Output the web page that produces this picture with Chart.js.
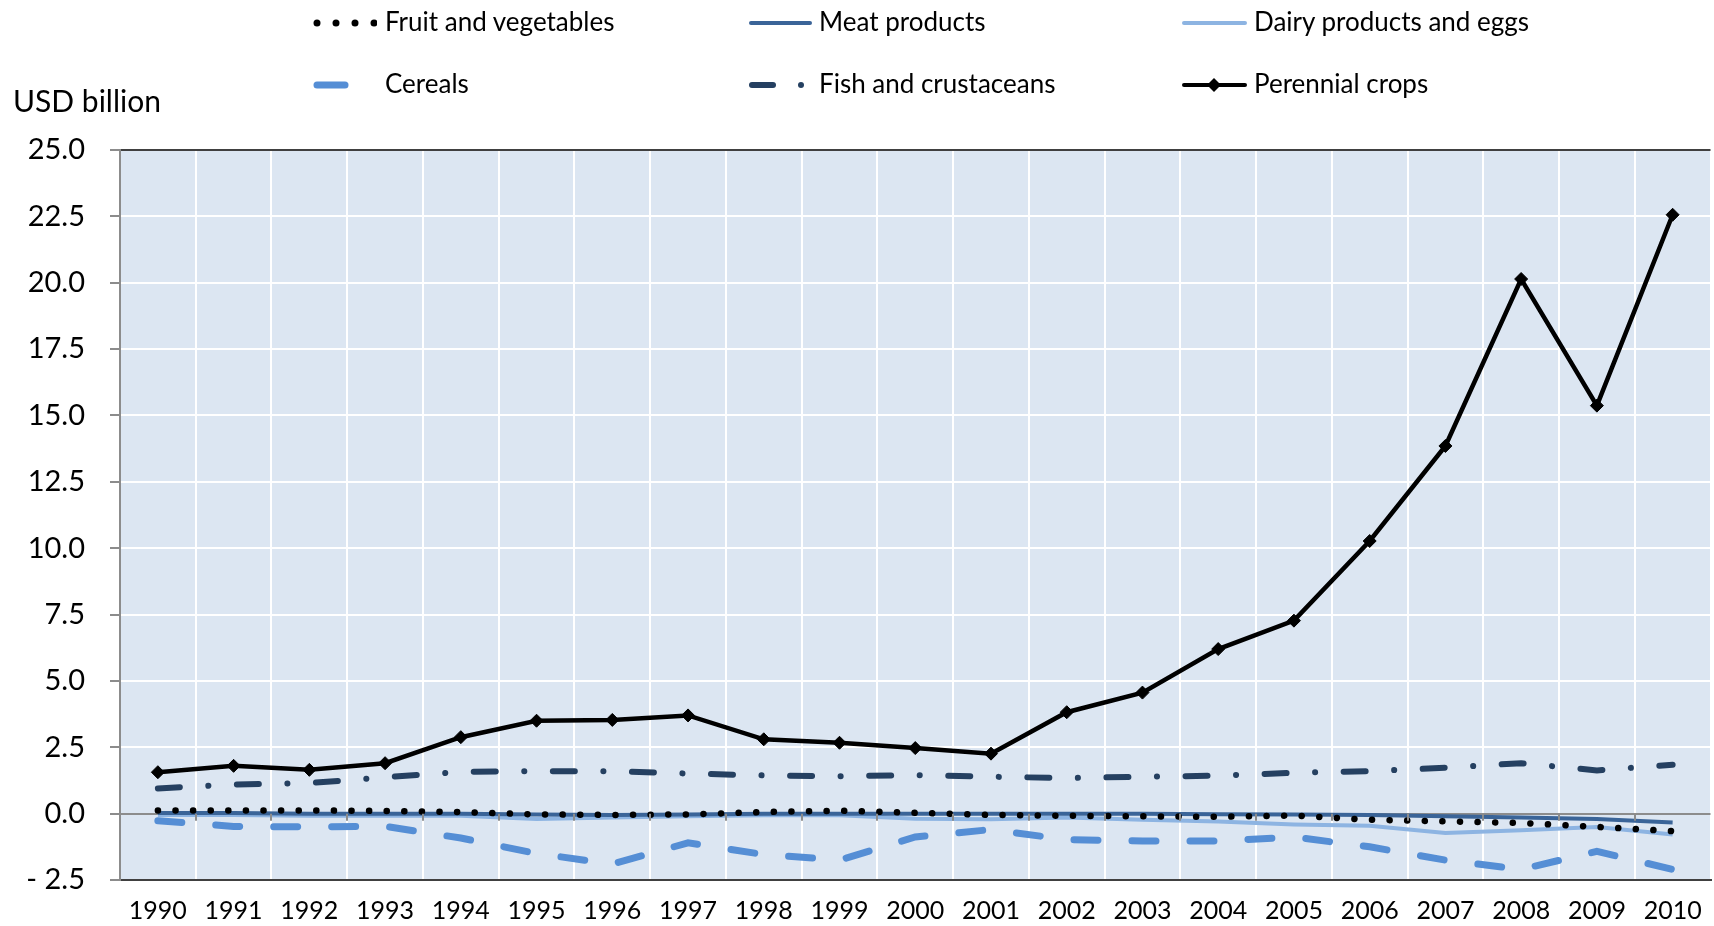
<!DOCTYPE html>
<html>
<head>
<meta charset="utf-8">
<title>Trade balance by product group</title>
<script src="https://cdn.jsdelivr.net/npm/chart.js@4.4.0/dist/chart.umd.min.js"></script>
<style>
    html, body { margin: 0; padding: 0; background: #fff; overflow: hidden; }
    #wrap { position: relative; width: 1718px; height: 926px; font-family: Lato, sans-serif; color: #000; }
    #tradeChart { position: absolute; left: 0; top: 0; }
    .item { position: absolute; height: 40px; font-size: 26px; white-space: nowrap; }
    .item svg { position: absolute; left: 0; top: 0; }
    .item span { position: absolute; top: 50%; transform: translateY(-55%); }
    #unit { position: absolute; left: 13px; top: 82px; font-size: 30px; }
</style>
</head>
<body>
<div id="wrap">
    <canvas id="tradeChart" width="1718" height="926"></canvas>
    <div id="unit">USD billion</div>
    <div id="legend"></div>
</div>
<script>
// Years on the category axis
const years = ['1990', '1991', '1992', '1993', '1994', '1995', '1996', '1997', '1998', '1999', '2000',
               '2001', '2002', '2003', '2004', '2005', '2006', '2007', '2008', '2009', '2010'];

// Values, USD billion
const fruitVeg  = [0.12, 0.12, 0.12, 0.10, 0.06, -0.03, -0.05, -0.03, 0.06, 0.11, 0.03,
                   -0.05, -0.08, -0.10, -0.12, -0.07, -0.23, -0.29, -0.35, -0.50, -0.66];
const meat      = [0.02, 0.02, 0.00, 0.00, 0.00, -0.03, -0.05, -0.03, 0.00, 0.00, 0.00,
                   0.00, 0.00, 0.00, -0.02, -0.03, -0.05, -0.10, -0.15, -0.20, -0.33];
const dairy     = [-0.05, -0.05, -0.08, -0.08, -0.08, -0.20, -0.15, -0.10, -0.06, -0.06, -0.19,
                   -0.21, -0.15, -0.23, -0.30, -0.41, -0.46, -0.73, -0.63, -0.50, -0.79];
const cereals   = [-0.27, -0.48, -0.50, -0.48, -0.92, -1.50, -1.90, -1.10, -1.54, -1.75, -0.88,
                   -0.60, -0.98, -1.03, -1.03, -0.88, -1.25, -1.75, -2.10, -1.42, -2.10];
const fish      = [0.95, 1.10, 1.15, 1.37, 1.57, 1.60, 1.60, 1.51, 1.44, 1.41, 1.45,
                   1.39, 1.34, 1.39, 1.43, 1.54, 1.60, 1.73, 1.90, 1.63, 1.84];
const perennial = [1.56, 1.80, 1.65, 1.90, 2.88, 3.50, 3.53, 3.70, 2.80, 2.67, 2.47,
                   2.26, 3.82, 4.56, 6.20, 7.27, 10.27, 13.85, 20.14, 15.37, 22.56];

// Y axis range
const yMin = -2.5;
const yMax = 25;
const yStep = 2.5;

const FONT = 'Lato, sans-serif';

/**
 * Light blue plot background and small tick marks hanging under the zero line
 */
const plotDecor = {
    id: 'plotDecor',
    beforeDraw(chart) {
        const { ctx, chartArea } = chart;
        ctx.save();
        ctx.fillStyle = '#dce6f2';
        ctx.fillRect(chartArea.left, chartArea.top, chartArea.right - chartArea.left, chartArea.bottom - chartArea.top);
        ctx.restore();
    },
    afterDatasetsDraw(chart) {
        const { ctx, scales } = chart;
        const x = scales.x, y = scales.y;
        const zero = y.getPixelForValue(0);
        const band = (x.right - x.left) / years.length;
        ctx.save();
        ctx.strokeStyle = '#8c8c8c';
        ctx.lineWidth = 2;
        for (let i = 1; i < years.length; i++) {
            const px = Math.round(x.left + i * band);
            ctx.beginPath();
            ctx.moveTo(px, zero);
            ctx.lineTo(px, zero + 7);
            ctx.stroke();
        }
        ctx.restore();
    }
};

const ctx = document.getElementById('tradeChart');
new Chart(ctx, {
    type: 'line',
    data: {
        labels: years,
        datasets: [
            {
                label: 'Perennial crops',
                data: perennial,
                borderColor: '#000000',
                backgroundColor: '#000000',
                borderWidth: 4.5,
                pointStyle: 'rectRot',
                pointRadius: 6.5,
                pointBorderWidth: 1,
                order: 0
            },
            {
                label: 'Fish and crustaceans',
                data: fish,
                borderColor: '#254061',
                borderWidth: 6,
                borderCapStyle: 'round',
                borderDash: [22, 28.5, 0.1, 28.5],
                pointRadius: 0,
                order: 1
            },
            {
                label: 'Fruit and vegetables',
                data: fruitVeg,
                borderColor: '#000000',
                borderWidth: 6.5,
                borderCapStyle: 'round',
                borderDash: [0.1, 17.5],
                pointRadius: 0,
                order: 2
            },
            {
                label: 'Meat products',
                data: meat,
                borderColor: '#3a6498',
                borderWidth: 4,
                pointRadius: 0,
                order: 3
            },
            {
                label: 'Dairy products and eggs',
                data: dairy,
                borderColor: '#8db4e2',
                borderWidth: 4,
                pointRadius: 0,
                order: 4
            },
            {
                label: 'Cereals',
                data: cereals,
                borderColor: '#558ed5',
                borderWidth: 7,
                borderCapStyle: 'round',
                borderDash: [24, 34],
                pointRadius: 0,
                order: 5
            }
        ]
    },
    options: {
        responsive: false,
        animation: false,
        layout: { padding: { top: 150, left: 0, right: 0, bottom: 0 } },
        plugins: {
            legend: { display: false },
            tooltip: { enabled: false }
        },
        scales: {
            x: {
                offset: true,
                afterFit: function(scale) { scale.height = 46; },
                grid: {
                    offset: true,
                    drawTicks: true,
                    tickLength: 8,
                    tickColor: 'rgba(0,0,0,0)',
                    lineWidth: 2,
                    color: function(c) {
                        return (c.index === 0 || c.index >= years.length) ? 'rgba(0,0,0,0)' : '#ffffff';
                    }
                },
                border: { color: '#404040', width: 2 },
                ticks: {
                    color: '#000',
                    padding: 8,
                    maxRotation: 0,
                    autoSkip: false,
                    font: { family: FONT, size: 25 }
                }
            },
            y: {
                min: yMin,
                max: yMax,
                afterFit: function(scale) { scale.width = 120; },
                grid: {
                    lineWidth: 2,
                    tickLength: 10,
                    tickColor: '#8c8c8c',
                    color: function(c) {
                        if (!c.tick) return '#ffffff';
                        if (c.tick.value === 0) return '#8c8c8c';
                        if (c.tick.value === yMax || c.tick.value === yMin) return '#404040';
                        return '#ffffff';
                    }
                },
                border: { color: '#8c8c8c', width: 2 },
                ticks: {
                    stepSize: yStep,
                    padding: 25,
                    color: '#000',
                    font: { family: FONT, size: 29 },
                    callback: function(value) {
                        return value < 0 ? '- ' + Math.abs(value).toFixed(1) : value.toFixed(1);
                    }
                }
            }
        }
    },
    plugins: [plotDecor]
});

/**
 * HTML legend laid out in two rows of three, as in the original
 */
const legendItems = [
    { text: 'Fruit and vegetables', x: 313, y: 3, textX: 72, w: 64,
      svg: '<circle cx="4" cy="20" r="3.5" fill="#000"/><circle cx="23" cy="20" r="3.5" fill="#000"/><circle cx="42" cy="20" r="3.5" fill="#000"/><circle cx="61" cy="20" r="3.5" fill="#000"/>' },
    { text: 'Meat products', x: 749, y: 3, textX: 70, w: 64,
      svg: '<line x1="2" y1="20" x2="61" y2="20" stroke="#3a6498" stroke-width="4" stroke-linecap="round"/>' },
    { text: 'Dairy products and eggs', x: 1182, y: 3, textX: 72, w: 66,
      svg: '<line x1="2" y1="20" x2="63" y2="20" stroke="#8db4e2" stroke-width="4" stroke-linecap="round"/>' },
    { text: 'Cereals', x: 313, y: 65, textX: 72, w: 40,
      svg: '<line x1="4" y1="20" x2="32" y2="20" stroke="#558ed5" stroke-width="7" stroke-linecap="round"/>' },
    { text: 'Fish and crustaceans', x: 749, y: 65, textX: 70, w: 60,
      svg: '<line x1="3" y1="20" x2="24" y2="20" stroke="#254061" stroke-width="6" stroke-linecap="round"/><circle cx="52" cy="20" r="3" fill="#254061"/>' },
    { text: 'Perennial crops', x: 1182, y: 65, textX: 72, w: 66,
      svg: '<line x1="2" y1="20" x2="63" y2="20" stroke="#000" stroke-width="4" stroke-linecap="round"/><polygon points="32,13 39,20 32,27 25,20" fill="#000"/>' }
];

const legendEl = document.getElementById('legend');
legendItems.forEach(item => {
    const div = document.createElement('div');
    div.className = 'item';
    div.style.left = item.x + 'px';
    div.style.top = item.y + 'px';
    div.innerHTML = '<svg width="' + item.w + '" height="40">' + item.svg + '</svg>' +
                    '<span style="left:' + item.textX + 'px">' + item.text + '</span>';
    legendEl.appendChild(div);
});
</script>
</body>
</html>
